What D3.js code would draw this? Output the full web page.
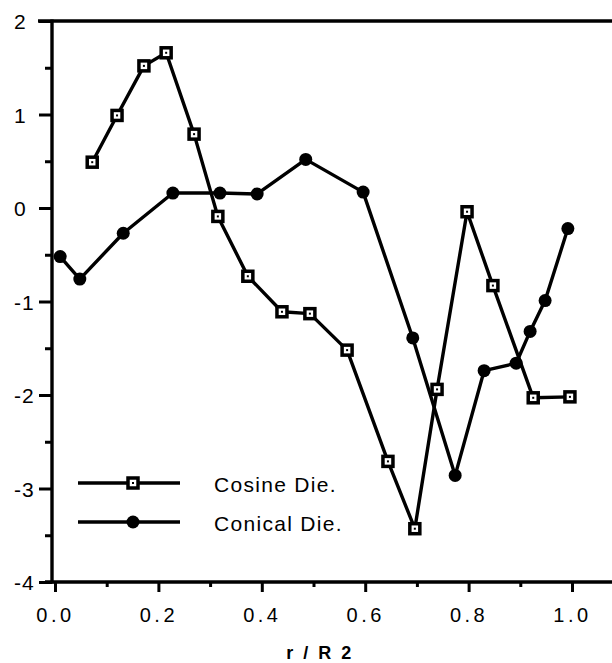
<!DOCTYPE html>
<html>
<head>
<meta charset="utf-8">
<script src="https://cdn.jsdelivr.net/npm/d3@7"></script>
<style>
  html, body { margin: 0; padding: 0; background: #fff; }
  svg { display: block; }
  text { font-family: "Liberation Sans", Arial, Helvetica, sans-serif; fill: #000; }
</style>
</head>
<body>
<script>
// Radial position r/R2 and measured values for the two die profiles
const cosineR   = [0.072, 0.120, 0.172, 0.215, 0.269, 0.315, 0.373, 0.439, 0.493, 0.565, 0.644, 0.696, 0.739, 0.797, 0.847, 0.925, 0.996];
const cosineVal = [0.49, 0.99, 1.52, 1.66, 0.79, -0.09, -0.73, -1.11, -1.13, -1.52, -2.71, -3.43, -1.94, -0.04, -0.83, -2.03, -2.02];

const conicalR   = [0.010, 0.048, 0.132, 0.228, 0.319, 0.391, 0.485, 0.596, 0.692, 0.774, 0.830, 0.892, 0.919, 0.948, 0.992];
const conicalVal = [-0.52, -0.76, -0.27, 0.16, 0.16, 0.15, 0.52, 0.17, -1.39, -2.86, -1.74, -1.66, -1.32, -0.99, -0.22];

const xMajorTicks = [0, 0.2, 0.4, 0.6, 0.8, 1.0];
const xMinorTicks = [0.1, 0.3, 0.5, 0.7, 0.9];
const yMajorTicks = [-4, -3, -2, -1, 0, 1, 2];
const yMinorTicks = [-3.5, -2.5, -1.5, -0.5, 0.5, 1.5];
const seriesNames = ["Cosine Die.", "Conical Die."];
const xTitle = "r / R 2";

const W = 612, H = 663;
const svg = d3.select("body").append("svg").attr("width", W).attr("height", H);

const x = d3.scaleLinear().domain([0, 1]).range([55, 572]);
const y = d3.scaleLinear().domain([-4, 2]).range([582, 21]);

const axisX = 52;      // left frame line
const frameRight = W;  // frame continues past the right edge
const SW = 3.4;

// frame lines: left, top, bottom
svg.append("line").attr("x1", axisX).attr("x2", axisX).attr("y1", y(2) - 1.5).attr("y2", y(-4) + 1.5)
  .attr("stroke", "#000").attr("stroke-width", SW);
svg.append("line").attr("x1", 38).attr("x2", frameRight).attr("y1", y(2)).attr("y2", y(2))
  .attr("stroke", "#000").attr("stroke-width", SW);
svg.append("line").attr("x1", 45).attr("x2", frameRight).attr("y1", y(-4)).attr("y2", y(-4))
  .attr("stroke", "#000").attr("stroke-width", SW);

// x axis (ticks hang below the frame)
const gx = svg.append("g").attr("transform", `translate(0,${y(-4)})`)
  .call(d3.axisBottom(x).tickValues(xMajorTicks).tickSize(10).tickFormat(d3.format(".1f")));
gx.select(".domain").remove();
gx.selectAll(".tick line").attr("stroke-width", 3);
gx.selectAll(".tick text").attr("y", 40).attr("dy", 0)
  .style("font-size", "20px").style("letter-spacing", "3.5px");

const gxm = svg.append("g").attr("transform", `translate(0,${y(-4)})`)
  .call(d3.axisBottom(x).tickValues(xMinorTicks).tickSize(5).tickFormat(""));
gxm.select(".domain").remove();
gxm.selectAll(".tick line").attr("stroke-width", 3);

// y axis (ticks point outward to the left); plain hyphen for negatives
const gy = svg.append("g").attr("transform", `translate(${axisX},0)`)
  .call(d3.axisLeft(y).tickValues(yMajorTicks).tickSize(13).tickFormat(d => String(d)));
gy.select(".domain").remove();
gy.selectAll(".tick line").attr("stroke-width", 3);
gy.selectAll(".tick text").attr("x", 14 - axisX).attr("dy", "0.36em")
  .attr("text-anchor", "start").style("font-size", "21px").style("letter-spacing", "1px");

const gym = svg.append("g").attr("transform", `translate(${axisX},0)`)
  .call(d3.axisLeft(y).tickValues(yMinorTicks).tickSize(7).tickFormat(""));
gym.select(".domain").remove();
gym.selectAll(".tick line").attr("stroke-width", 3);

// x axis title
svg.append("text").attr("x", 320).attr("y", 659).attr("text-anchor", "middle")
  .style("font-size", "18px").style("font-weight", "bold").style("letter-spacing", "2.5px")
  .text(xTitle);

// series
const line = d3.line().x(d => x(d[0])).y(d => y(d[1]));
const cosine = cosineR.map((r, i) => [r, cosineVal[i]]);
const conical = conicalR.map((r, i) => [r, conicalVal[i]]);

svg.append("path").datum(cosine).attr("d", line)
  .attr("fill", "none").attr("stroke", "#000").attr("stroke-width", SW).attr("stroke-linejoin", "round");
svg.append("path").datum(conical).attr("d", line)
  .attr("fill", "none").attr("stroke", "#000").attr("stroke-width", SW).attr("stroke-linejoin", "round");

function squareMarker(g, cx, cy) {
  g.append("rect").attr("x", cx - 5).attr("y", cy - 5).attr("width", 10).attr("height", 10)
    .attr("fill", "#fff").attr("stroke", "#000").attr("stroke-width", 3.5);
  g.append("rect").attr("x", cx - 1).attr("y", cy - 1).attr("width", 2).attr("height", 2).attr("fill", "#000");
}
function dotMarker(g, cx, cy) {
  g.append("circle").attr("cx", cx).attr("cy", cy).attr("r", 6.5).attr("fill", "#000");
}

const mk = svg.append("g");
cosine.forEach(d => squareMarker(mk, x(d[0]), y(d[1])));
conical.forEach(d => dotMarker(mk, x(d[0]), y(d[1])));

// legend
const legY = [483, 522];
const lg = svg.append("g");
legY.forEach((ly, i) => {
  lg.append("line").attr("x1", 78).attr("x2", 180).attr("y1", ly).attr("y2", ly)
    .attr("stroke", "#000").attr("stroke-width", SW);
  if (i === 0) squareMarker(lg, 133, ly); else dotMarker(lg, 133, ly);
  lg.append("text").attr("x", 214).attr("y", ly + 9)
    .style("font-size", "21px").style("letter-spacing", "1.3px").text(seriesNames[i]);
});
</script>
</body>
</html>
